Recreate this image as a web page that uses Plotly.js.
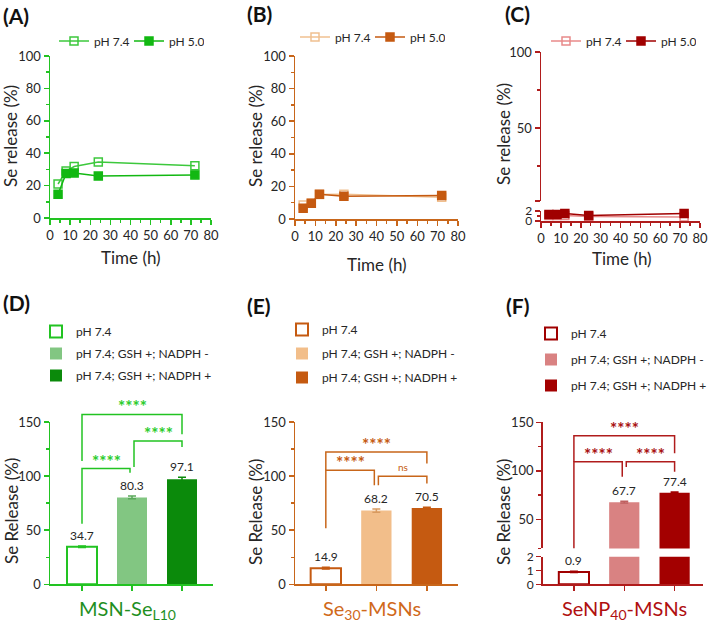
<!DOCTYPE html>
<html><head><meta charset="utf-8">
<script src="https://cdn.plot.ly/plotly-3.0.1.min.js"></script>
<style>html,body{margin:0;padding:0;background:#fff}#chart{width:710px;height:625px}</style>
</head><body><div id="chart"></div>
<script>
// ---------------- data ----------------
const timeH = [4, 8, 12, 24, 72];
const lineNames = ['pH 7.4', 'pH 5.0'];
const relA_pH74 = [21.0, 29.0, 31.8, 34.5, 32.3];
const relA_pH50 = [14.7, 27.5, 27.8, 25.9, 26.6];
const relB_pH74 = [8.6, 9.6, 15.0, 15.2, 13.4];
const relB_pH50 = [6.6, 9.7, 15.2, 14.0, 14.4];
const relC_pH74 = [1.1, 1.1, 1.1, 0.9, 0.8];
const relC_pH50 = [1.3, 1.3, 1.5, 1.1, 1.5];

const barConditions = ['pH 7.4', 'pH 7.4; GSH +; NADPH -', 'pH 7.4; GSH +; NADPH +'];
const barD = [34.7, 80.3, 97.1];
const errD = [0.8, 1.2, 1.8];
const barE = [14.9, 68.2, 70.5];
const errE = [0.8, 1.5, 0.8];
const barF = [0.9, 67.7, 77.4];
const errF = [0.05, 1.0, 0.8];
const materials = ['MSN-Se<sub>L10</sub>', 'Se<sub>30</sub>-MSNs', 'SeNP<sub>40</sub>-MSNs'];
const panelLabels = ['(A)', '(B)', '(C)', '(D)', '(E)', '(F)'];

// significance: [groupA, groupB, label, bracketTop, leftLegEnd, rightLegEnd]
const sigD = [[0,1,'****',107,56,103],[1,2,'****',132.5,108.5,127],[0,2,'****',157,114,138.7]];
const sigE = [[0,1,'****',105.4,51.7,91.6],[1,2,'ns',99.9,91.6,93.2],[0,2,'****',122.3,105.4,111.6]];
const sigF = [[0,1,'****',109.4,20,93.9],[1,2,'****',109.4,104,99],[0,2,'****',136.2,109.4,118]];

// ---------------- styling ----------------
const W = 710, H = 625;
const X = p => p / W, Y = p => 1 - p / H;
const FONT = 'Lato, "Open Sans", sans-serif';
const TXT = '#262626';

const G = {axis:'#22c322', l74:'#3cc83c', l50:'#12b812', open:'#22c322', light:'#82c682', lightErr:'#5aa85a', dark:'#0b8a0b', title:'#1f8f1f', star:'#2ccc2c'};
const O = {axis:'#c8661a', l74:'#f0c090', l50:'#c55a11', open:'#c55a11', light:'#f2be8a', lightErr:'#d89a60', dark:'#c55a11', title:'#d0691a', star:'#c55a11'};
const R = {axis:'#b01c1c', l74:'#e88a8a', l50:'#a00000', open:'#a00000', light:'#d98282', lightErr:'#c06060', dark:'#a30000', title:'#b01010', star:'#a81010'};

function axisStyle(color, extra) {
  return Object.assign({
    showline: true, linecolor: color, linewidth: 1.5,
    ticks: 'outside', tickcolor: color, tickwidth: 1.5, ticklen: 5,
    showgrid: false, zeroline: false, fixedrange: true, automargin: false,
    tickfont: {family: FONT, size: 13, color: TXT}
  }, extra);
}
function minor(color, opts) {
  return Object.assign({ticks: 'outside', ticklen: 3, tickcolor: color, tickwidth: 1.5}, opts);
}

// ---------------- traces ----------------
const traces = [];
function addLines(ys, pal, xa, ya, lg, show, upperCopy) {
  const cols = [pal.l74, pal.l50];
  const syms = ['square-open', 'square'];
  ys.forEach((y, k) => {
    traces.push({
      type: 'scatter', mode: upperCopy ? 'lines' : 'lines+markers', x: timeH, y: y, name: lineNames[k],
      xaxis: xa, yaxis: ya, legend: lg, showlegend: show, cliponaxis: !!upperCopy,
      line: {color: cols[k], width: 1.5},
      marker: {symbol: syms[k], size: 8, color: cols[k], line: {color: cols[k], width: 1.5}}
    });
  });
}
addLines([relA_pH74, relA_pH50], G, 'x', 'y', 'legend', true, false);
addLines([relB_pH74, relB_pH50], O, 'x2', 'y2', 'legend2', true, false);
addLines([relC_pH74, relC_pH50], R, 'x3', 'y3', 'legend3', true, false);   // lower segment 0-2
addLines([relC_pH74, relC_pH50], R, 'x3', 'y4', 'legend3', false, true);   // upper segment 2-100

function addBars(vals, errs, pal, xa, ya, lg, show, which) {
  const fills = ['#ffffff', pal.light, pal.dark];
  const edges = [pal.open, pal.light, pal.dark];
  const errc = [pal.open, pal.lightErr, pal.dark];
  vals.forEach((v, i) => {
    if (which && which.indexOf(i) < 0) return;
    traces.push({
      type: 'bar', x: [i], y: [v], width: 0.6, name: barConditions[i],
      xaxis: xa, yaxis: ya, legend: lg, showlegend: show, legendgroup: lg + i,
      marker: {color: fills[i], line: {color: edges[i], width: i === 0 ? 2 : 0}},
      error_y: {type: 'data', array: [errs[i]], color: errc[i], thickness: 1.5, width: 4, visible: true}
    });
  });
}
addBars(barD, errD, G, 'x4', 'y5', 'legend4', true);
addBars(barE, errE, O, 'x5', 'y6', 'legend5', true);
addBars(barF, errF, R, 'x6', 'y7', 'legend6', true);           // lower segment 0-2
addBars(barF, errF, R, 'x6', 'y8', 'legend6', false, [1, 2]);  // upper segment
// invisible carrier so the taller annotation scale of panel D exists
traces.push({type: 'scatter', mode: 'markers', x: [0], y: [barD[0]], xaxis: 'x4', yaxis: 'y9',
  showlegend: false, hoverinfo: 'skip', marker: {opacity: 0}});

// ---------------- layout ----------------
const dTop = 395, dBase = 584.3, d150 = 422;
const layout = {
  width: W, height: H, margin: {l: 0, r: 0, t: 0, b: 0, autoexpand: false},
  paper_bgcolor: '#fff', plot_bgcolor: 'rgba(0,0,0,0)',
  font: {family: FONT, color: TXT},
  barmode: 'overlay', showlegend: true,
  xaxis: axisStyle(G.axis, {domain: [X(50), X(211)], range: [0, 80], anchor: 'y', dtick: 10, minor: minor(G.axis, {dtick: 5})}),
  yaxis: axisStyle(G.axis, {domain: [Y(218), Y(56)], range: [0, 100], anchor: 'x', dtick: 20, minor: minor(G.axis, {dtick: 10})}),
  xaxis2: axisStyle(O.axis, {domain: [X(295), X(458)], range: [0, 80], anchor: 'y2', dtick: 10, minor: minor(O.axis, {dtick: 5})}),
  yaxis2: axisStyle(O.axis, {domain: [Y(219), Y(56)], range: [0, 100], anchor: 'x2', dtick: 20, minor: minor(O.axis, {dtick: 10})}),
  xaxis3: axisStyle(R.axis, {domain: [X(541), X(700)], range: [0, 80], anchor: 'y3', dtick: 10, minor: minor(R.axis, {dtick: 5})}),
  yaxis3: axisStyle(R.axis, {domain: [Y(221), Y(211)], range: [0, 2], anchor: 'x3', tickvals: [0, 2], tickfont: {family: FONT, size: 12, color: TXT}, minor: minor(R.axis, {tickvals: [1]})}),
  yaxis4: axisStyle(R.axis, {domain: [Y(201), Y(52)], range: [2, 100], anchor: 'x3', tickvals: [2, 50, 100], ticktext: [' ', '50', '100'], minor: minor(R.axis, {tickvals: [25, 75]})}),
  xaxis4: axisStyle(G.axis, {domain: [X(50), X(213)], range: [-0.64, 2.62], anchor: 'y5', tickvals: [0, 1, 2], showticklabels: false}),
  yaxis5: axisStyle(G.axis, {domain: [Y(dBase), Y(d150)], range: [0, 150], anchor: 'x4', dtick: 50, minor: minor(G.axis, {dtick: 25})}),
  yaxis9: {domain: [Y(dBase), Y(dTop)], range: [0, 150 * (dBase - dTop) / (dBase - d150)], anchor: 'x4',
           showline: false, showticklabels: false, ticks: '', showgrid: false, zeroline: false, fixedrange: true},
  xaxis5: axisStyle(O.axis, {domain: [X(295), X(457.7)], range: [-0.61, 2.61], anchor: 'y6', tickvals: [0, 1, 2], showticklabels: false}),
  yaxis6: axisStyle(O.axis, {domain: [Y(584.3), Y(422)], range: [0, 150], anchor: 'x5', dtick: 50, minor: minor(O.axis, {dtick: 25})}),
  xaxis6: axisStyle(R.axis, {domain: [X(542.7), X(703.3)], range: [-0.62, 2.57], anchor: 'y7', tickvals: [0, 1, 2], showticklabels: false}),
  yaxis7: axisStyle(R.axis, {domain: [Y(584.3), Y(556.7)], range: [0, 2], anchor: 'x6', tickvals: [0, 1, 2], tickfont: {family: FONT, size: 12, color: TXT}}),
  yaxis8: axisStyle(R.axis, {domain: [Y(548.4), Y(422.3)], range: [20, 150], anchor: 'x6', tickvals: [50, 100, 150], minor: minor(R.axis, {tickvals: [20, 75, 125]})}),
  annotations: [], shapes: []
};

function lineLegend(xp, yp) {
  return {orientation: 'h', x: X(xp), y: Y(yp), xanchor: 'left', yanchor: 'middle', bgcolor: 'rgba(0,0,0,0)',
          font: {family: FONT, size: 12, color: TXT}, itemwidth: 30, entrywidth: 30, entrywidthmode: 'pixels'};
}
layout.legend = lineLegend(54, 41);
layout.legend2 = lineLegend(295, 37);
layout.legend3 = lineLegend(546, 41);
function barLegend(xp, yp, gap) {
  return {orientation: 'v', x: X(xp), y: Y(yp), xanchor: 'left', yanchor: 'top', bgcolor: 'rgba(0,0,0,0)',
          font: {family: FONT, size: 12, color: TXT}, itemwidth: 30, tracegroupgap: gap};
}
layout.legend4 = barLegend(36, 317, 3);
layout.legend5 = barLegend(282, 315, 5);
layout.legend6 = barLegend(531, 319, 7);

const ann = layout.annotations;
function txt(xp, yp, text, size, color, opts) {
  ann.push(Object.assign({xref: 'paper', yref: 'paper', x: X(xp), y: Y(yp), text: text, showarrow: false,
    xanchor: 'center', yanchor: 'middle', font: {family: FONT, size: size, color: color}}, opts || {}));
}
// panel labels
[[16, 15], [259, 13], [517, 14], [16, 302], [259, 305], [517, 305]].forEach((p, i) =>
  txt(p[0], p[1], '<b>' + panelLabels[i] + '</b>', 21, '#111'));
// axis titles
[[10, 136], [255, 136], [503, 134]].forEach(p => txt(p[0], p[1], 'Se release (%)', 17, TXT, {textangle: -90}));
[[11, 511], [255, 512], [503, 512]].forEach(p => txt(p[0], p[1], 'Se Release (%)', 17, TXT, {textangle: -90}));
[[131, 257], [377, 264], [622, 258]].forEach(p => txt(p[0], p[1], 'Time (h)', 17, TXT));
[[127, 609, G.title], [372, 609, O.title], [624, 609, R.title]].forEach((p, i) => txt(p[0], p[1], materials[i], 20, p[2]));

// value labels
function valueLabels(vals, errs, xa, yas) {
  vals.forEach((v, i) => ann.push({xref: xa, yref: yas[i], x: i, y: v + errs[i], text: v.toFixed(1), showarrow: false,
    yanchor: 'bottom', yshift: 1, font: {family: FONT, size: 12, color: TXT}}));
}
valueLabels(barD, errD, 'x4', ['y5', 'y5', 'y5']);
valueLabels(barE, errE, 'x5', ['y6', 'y6', 'y6']);
valueLabels(barF, errF, 'x6', ['y7', 'y8', 'y8']);

// significance brackets
function brackets(sig, xa, ya, pal) {
  sig.forEach(s => {
    const a = s[0] + (s[0] === 1 ? 0.04 : 0);
    const b = s[1] - (s[1] === 1 ? 0.04 : 0);
    layout.shapes.push({type: 'path', xref: xa, yref: ya,
      path: `M${a},${s[4]} L${a},${s[3]} L${b},${s[3]} L${b},${s[5]}`,
      line: {color: pal.axis, width: 1.5}});
    const isNs = s[2] === 'ns';
    ann.push({xref: xa, yref: ya, x: (a + b) / 2, y: s[3], text: isNs ? s[2] : '<b>' + s[2] + '</b>', showarrow: false,
      yanchor: 'bottom', yshift: isNs ? 1 : -5, font: {family: FONT, size: isNs ? 10 : 17, color: pal.star}});
  });
}
brackets(sigD, 'x4', 'y9', G);
brackets(sigE, 'x5', 'y6', O);
brackets(sigF, 'x6', 'y8', R);

Plotly.newPlot('chart', traces, layout, {displayModeBar: false, staticPlot: true});
</script>
</body></html>
